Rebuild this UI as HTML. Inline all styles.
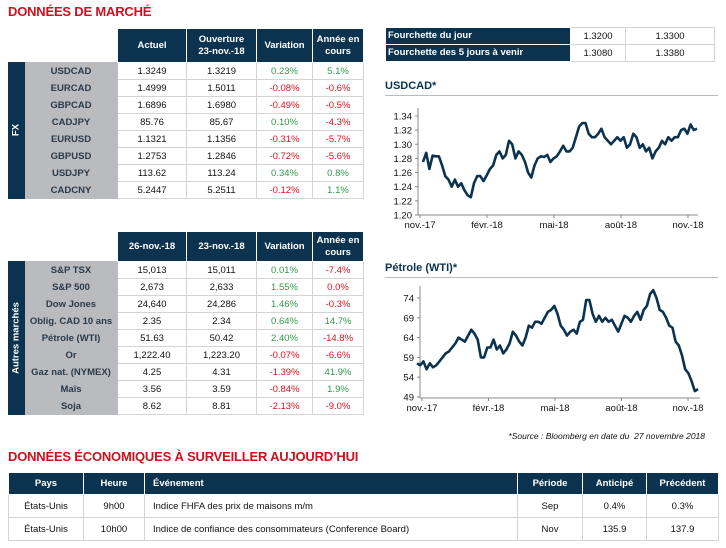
<!DOCTYPE html>
<html><head><meta charset="utf-8">
<style>
*{margin:0;padding:0;box-sizing:border-box}
body{width:726px;height:548px;background:#fff;font-family:"Liberation Sans",sans-serif;font-size:9.5px;color:#111;position:relative;overflow:hidden}
.abs{position:absolute}
.title{color:#d0101e;font-weight:bold;font-size:13px;letter-spacing:-0.2px}
table{border-collapse:collapse;position:absolute;table-layout:fixed}
td,th{text-align:center;padding:0;white-space:nowrap;overflow:hidden}
th{background:#0b3350;color:#fff;font-weight:bold;border:1px solid #fff;line-height:12px}
td{border:1px solid #d4d4d4;height:17px}
td.lab{background:#b9bbbe;color:#2a3a4a;font-weight:bold;border:1px solid #b9bbbe}
td.strip{background:#0b3350;border:1px solid #0b3350}
th.blank{background:#fff;border:none}
.g{color:#2f9a4c}.r{color:#e3101f}
.vlab{position:absolute;color:#fff;font-weight:bold;font-size:9.5px;white-space:nowrap;transform:translate(-50%,-50%) rotate(-90deg)}
.ctitle{color:#0b3350;font-weight:bold;font-size:11px}
</style></head><body>
<div class="abs title" style="left:8px;top:4px">DONNÉES DE MARCHÉ</div>

<table style="left:8px;top:28px;width:355px">
<colgroup><col style="width:16px"><col style="width:93px"><col style="width:69px"><col style="width:70px"><col style="width:56px"><col style="width:51px"></colgroup>
<tr style="height:34px"><th class="blank"></th><th class="blank"></th><th>Actuel</th><th>Ouverture<br>23-nov.-18</th><th>Variation</th><th>Année en<br>cours</th></tr>
<tr><td class="strip" rowspan="8"></td><td class="lab">USDCAD</td><td>1.3249</td><td>1.3219</td><td class="g">0.23%</td><td class="g">5.1%</td></tr>
<tr><td class="lab">EURCAD</td><td>1.4999</td><td>1.5011</td><td class="r">-0.08%</td><td class="r">-0.6%</td></tr>
<tr><td class="lab">GBPCAD</td><td>1.6896</td><td>1.6980</td><td class="r">-0.49%</td><td class="r">-0.5%</td></tr>
<tr><td class="lab">CADJPY</td><td>85.76</td><td>85.67</td><td class="g">0.10%</td><td class="r">-4.3%</td></tr>
<tr><td class="lab">EURUSD</td><td>1.1321</td><td>1.1356</td><td class="r">-0.31%</td><td class="r">-5.7%</td></tr>
<tr><td class="lab">GBPUSD</td><td>1.2753</td><td>1.2846</td><td class="r">-0.72%</td><td class="r">-5.6%</td></tr>
<tr><td class="lab">USDJPY</td><td>113.62</td><td>113.24</td><td class="g">0.34%</td><td class="g">0.8%</td></tr>
<tr><td class="lab">CADCNY</td><td>5.2447</td><td>5.2511</td><td class="r">-0.12%</td><td class="g">1.1%</td></tr>
</table>
<div class="vlab" style="left:16px;top:130px">FX</div>

<table style="left:8px;top:231px;width:355px">
<colgroup><col style="width:16px"><col style="width:93px"><col style="width:69px"><col style="width:70px"><col style="width:56px"><col style="width:51px"></colgroup>
<tr style="height:30px"><th class="blank"></th><th class="blank"></th><th>26-nov.-18</th><th>23-nov.-18</th><th>Variation</th><th>Année en<br>cours</th></tr>
<tr><td class="strip" rowspan="9"></td><td class="lab">S&amp;P TSX</td><td>15,013</td><td>15,011</td><td class="g">0.01%</td><td class="r">-7.4%</td></tr>
<tr><td class="lab">S&amp;P 500</td><td>2,673</td><td>2,633</td><td class="g">1.55%</td><td class="r">0.0%</td></tr>
<tr><td class="lab">Dow Jones</td><td>24,640</td><td>24,286</td><td class="g">1.46%</td><td class="r">-0.3%</td></tr>
<tr><td class="lab">Oblig. CAD 10 ans</td><td>2.35</td><td>2.34</td><td class="g">0.64%</td><td class="g">14.7%</td></tr>
<tr><td class="lab">Pétrole (WTI)</td><td>51.63</td><td>50.42</td><td class="g">2.40%</td><td class="r">-14.8%</td></tr>
<tr><td class="lab">Or</td><td>1,222.40</td><td>1,223.20</td><td class="r">-0.07%</td><td class="r">-6.6%</td></tr>
<tr><td class="lab">Gaz nat. (NYMEX)</td><td>4.25</td><td>4.31</td><td class="r">-1.39%</td><td class="g">41.9%</td></tr>
<tr><td class="lab">Maïs</td><td>3.56</td><td>3.59</td><td class="r">-0.84%</td><td class="g">1.9%</td></tr>
<tr><td class="lab">Soja</td><td>8.62</td><td>8.81</td><td class="r">-2.13%</td><td class="r">-9.0%</td></tr>
</table>
<div class="vlab" style="left:16px;top:338px">Autres marchés</div>

<table style="left:385px;top:27px;width:329px">
<colgroup><col style="width:185px"><col style="width:55px"><col style="width:89px"></colgroup>
<tr><th style="text-align:left;padding-left:2px;height:17px">Fourchette du jour</th><td>1.3200</td><td>1.3300</td></tr>
<tr><th style="text-align:left;padding-left:2px;height:17px">Fourchette des 5 jours à venir</th><td>1.3080</td><td>1.3380</td></tr>
</table>

<div class="abs ctitle" style="left:385px;top:80px">USDCAD*</div>
<div class="abs" style="left:385px;top:95px;width:333px;height:1px;background:#bbb"></div>
<svg id="c1" class="abs" style="left:370px;top:96px" width="356" height="140"></svg>

<div class="abs ctitle" style="left:385px;top:262px">Pétrole (WTI)*</div>
<div class="abs" style="left:385px;top:277px;width:333px;height:1px;background:#bbb"></div>
<svg id="c2" class="abs" style="left:370px;top:278px" width="356" height="140"></svg>

<div class="abs" style="right:21px;top:431px;font-style:italic;font-size:8.5px">*Source : Bloomberg en date du &nbsp;27 novembre 2018</div>
<div class="abs title" style="left:8px;top:449px">DONNÉES ÉCONOMIQUES À SURVEILLER AUJOURD’HUI</div>

<table style="left:8px;top:472px;width:710px">
<colgroup><col style="width:75px"><col style="width:61px"><col style="width:373px"><col style="width:65px"><col style="width:64px"><col style="width:72px"></colgroup>
<tr style="height:22px"><th>Pays</th><th>Heure</th><th style="text-align:left;padding-left:8px">Événement</th><th>Période</th><th>Anticipé</th><th>Précédent</th></tr>
<tr style="height:23px"><td>États-Unis</td><td>9h00</td><td style="text-align:left;padding-left:8px">Indice FHFA des prix de maisons m/m</td><td>Sep</td><td>0.4%</td><td>0.3%</td></tr>
<tr style="height:23px"><td>États-Unis</td><td>10h00</td><td style="text-align:left;padding-left:8px">Indice de confiance des consommateurs (Conference Board)</td><td>Nov</td><td>135.9</td><td>137.9</td></tr>
</table>

<script>
const usdcadValues=[1.275,1.288,1.265,1.284,1.283,1.283,1.27,1.255,1.25,1.24,1.25,1.24,1.245,1.235,1.228,1.225,1.245,1.255,1.255,1.248,1.256,1.265,1.27,1.285,1.29,1.28,1.285,1.305,1.30,1.28,1.29,1.285,1.275,1.26,1.253,1.27,1.28,1.283,1.282,1.285,1.275,1.28,1.283,1.29,1.298,1.29,1.29,1.295,1.31,1.325,1.33,1.33,1.315,1.31,1.31,1.315,1.322,1.31,1.305,1.30,1.305,1.31,1.305,1.31,1.295,1.30,1.315,1.31,1.295,1.30,1.29,1.295,1.28,1.29,1.295,1.305,1.30,1.31,1.305,1.31,1.31,1.32,1.322,1.315,1.328,1.32,1.322];
const usdcadTicks=[1.20,1.22,1.24,1.26,1.28,1.30,1.32,1.34];
const oilValues=[57.5,57,58,56,57.5,56.5,57,58,59,60,60.5,61.5,62.5,64,63.5,63,64.5,66,65,63.5,59,59,61.5,61.5,63.5,61,62,60,61,62.5,65.5,64.5,63,62,64,67,66.5,68,68,67.5,69,70.5,71,72,70,67,66,64.5,65.5,66,65,68,68.5,73.5,73.5,70,68,69.5,68,69,68,68.5,67,65.5,67.5,69.5,69,68,69.5,70.5,68.5,71,72,75,76,74,71,70.5,69,67,66.5,63,62,59.5,56,55,53,50.5,51];
const oilTicks=[49,54,59,64,69,74];
const monthLabels=['nov.-17','févr.-18','mai-18','août-18','nov.-18'];
const NS='http://www.w3.org/2000/svg';
function mk(svg,tag,a){const e=document.createElementNS(NS,tag);for(const k in a)e.setAttribute(k,a[k]);svg.appendChild(e);return e;}
function chart(id,vals,ticks,dec,cfg){
  const svg=document.getElementById(id);
  const y=v=>cfg.yb-(v-ticks[0])/(ticks[ticks.length-1]-ticks[0])*(cfg.yb-cfg.yt);
  const base=cfg.axisY;
  const x=i=>cfg.x0+i/(vals.length-1)*(cfg.x1-cfg.x0);
  const ax=mk(svg,'path',{d:`M${cfg.ax} ${cfg.top} V${base} H${cfg.axEnd}`,stroke:'#888',fill:'none','stroke-width':1});
  
  
  ticks.forEach(t=>{
    const tl=mk(svg,'line',{x1:cfg.ax-3,x2:cfg.ax,y1:y(t),y2:y(t),stroke:'#888'});
    
    
    const tx=mk(svg,'text',{x:cfg.ax-6,y:y(t)+3.5,'text-anchor':'end','font-size':'9.5','font-family':'Liberation Sans, sans-serif',fill:'#111'});
    tx.textContent=t.toFixed(dec);
    
    
  });
  monthLabels.forEach((m,i)=>{
    const px=cfg.lx0+i*(cfg.lx1-cfg.lx0)/(monthLabels.length-1);
    const tk=mk(svg,'line',{x1:px,x2:px,y1:base,y2:base+3,stroke:'#888'});
    
    
    const tx=mk(svg,'text',{x:px,y:base+13,'text-anchor':'middle','font-size':'9.5','font-family':'Liberation Sans, sans-serif',fill:'#111'});
    tx.textContent=m;
    
    
  });
  const d=vals.map((v,i)=>(i?'L':'M')+x(i).toFixed(1)+' '+y(v).toFixed(1)).join(' ');
  const ln=mk(svg,'path',{d:d,stroke:'#0b3350',fill:'none','stroke-width':2.6,'stroke-linejoin':'round'});
  
  
}
chart('c1',usdcadValues,usdcadTicks,2,{yt:20,yb:119,axisY:119,top:12,ax:48,axEnd:328,x0:53,x1:327,lx0:50,lx1:318});
chart('c2',oilValues,oilTicks,0,{yt:20,yb:119,axisY:120,top:8,ax:50,axEnd:330,x0:47,x1:328,lx0:52,lx1:318});
</script>
</body></html>
